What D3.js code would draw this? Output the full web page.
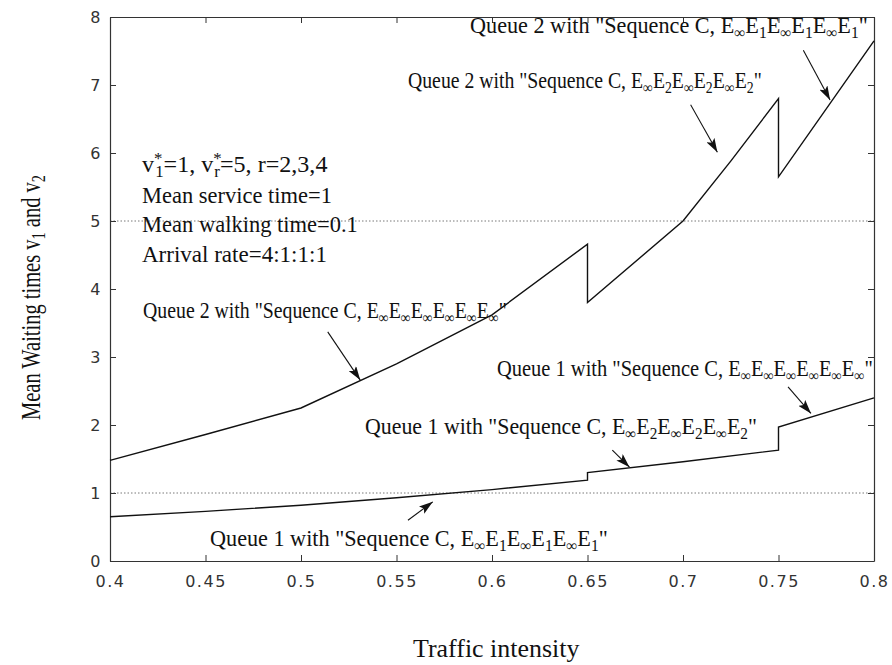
<!DOCTYPE html>
<html>
<head>
<meta charset="utf-8">
<script src="https://cdn.jsdelivr.net/npm/d3@7"></script>
<style>
  body { margin: 0; background: #fff; }
  svg { display: block; }
  .tick text { font-family: "DejaVu Sans", sans-serif; font-size: 16px; letter-spacing: 1.5px; fill: #333; }
  .note { font-family: "Liberation Serif", "Times New Roman", serif; font-size: 23px; fill: #111; }
</style>
</head>
<body>
<div id="chart"></div>
<script>
// traffic intensity (x) and mean waiting time (y), jumps are repeated x values
var q2x = [0.4, 0.45, 0.5, 0.55, 0.6, 0.65, 0.65, 0.7, 0.725, 0.75, 0.75, 0.8];
var q2y = [1.48, 1.86, 2.25, 2.9, 3.62, 4.66, 3.8, 5.0, 5.88, 6.8, 5.65, 7.65];
var q1x = [0.4, 0.45, 0.5, 0.55, 0.6, 0.65, 0.65, 0.7, 0.75, 0.75, 0.8];
var q1y = [0.65, 0.73, 0.82, 0.93, 1.05, 1.19, 1.3, 1.46, 1.63, 1.97, 2.4];
var refLines = [1, 5];
var xTicks = [0.4, 0.45, 0.5, 0.55, 0.6, 0.65, 0.7, 0.75, 0.8];
var yTicks = [0, 1, 2, 3, 4, 5, 6, 7, 8];

// arrows in data units: [x0, y0, x1, y1]
var arrows = [
  [0.763, 7.51, 0.777, 6.78],
  [0.704, 6.71, 0.718, 6.01],
  [0.514, 3.37, 0.531, 2.66],
  [0.755, 2.56, 0.767, 2.17],
  [0.663, 1.63, 0.672, 1.38],
  [0.556, 0.60, 0.569, 0.87]
];

var W = 892, H = 665;
var m = {left: 110, right: 18, top: 17, bottom: 104};

var svg = d3.select('#chart').append('svg')
  .attr('width', W)
  .attr('height', H);

var x = d3.scaleLinear().domain([0.4, 0.8]).range([m.left, W - m.right]);
var y = d3.scaleLinear().domain([0, 8]).range([H - m.bottom, m.top]);

// dotted reference lines
svg.selectAll('.ref').data(refLines).enter().append('line')
  .attr('x1', x(0.4)).attr('x2', x(0.8))
  .attr('y1', function(d) { return y(d); })
  .attr('y2', function(d) { return y(d); })
  .attr('stroke', '#555').attr('stroke-width', 0.8)
  .attr('stroke-dasharray', '1.5,2');

// axes (MATLAB style box with inward ticks)
var fx = function(d) { return String(+d.toFixed(2)); };
var axBottom = svg.append('g').attr('transform', 'translate(0,' + y(0) + ')')
  .call(d3.axisBottom(x).tickValues(xTicks).tickFormat(fx).tickSizeInner(-6).tickSizeOuter(0).tickPadding(15));
var axTop = svg.append('g').attr('transform', 'translate(0,' + y(8) + ')')
  .call(d3.axisTop(x).tickValues(xTicks).tickFormat('').tickSizeInner(-6).tickSizeOuter(0));
var axLeft = svg.append('g').attr('transform', 'translate(' + x(0.4) + ',0)')
  .call(d3.axisLeft(y).tickValues(yTicks).tickFormat(d3.format('d')).tickSizeInner(-6).tickSizeOuter(0).tickPadding(8));
var axRight = svg.append('g').attr('transform', 'translate(' + x(0.8) + ',0)')
  .call(d3.axisRight(y).tickValues(yTicks).tickFormat('').tickSizeInner(-6).tickSizeOuter(0));
[axBottom, axTop, axLeft, axRight].forEach(function(g) {
  g.select('.domain').attr('stroke', '#333').attr('stroke-width', 1.2);
  g.selectAll('.tick line').attr('stroke', '#333');
});

// curves
var line = d3.line()
  .x(function(d) { return x(d[0]); })
  .y(function(d) { return y(d[1]); });
[[q2x, q2y], [q1x, q1y]].forEach(function(s) {
  svg.append('path')
    .datum(d3.zip(s[0], s[1]))
    .attr('d', line)
    .attr('fill', 'none')
    .attr('stroke', '#111')
    .attr('stroke-width', 1.4);
});

// arrows
svg.append('defs').append('marker')
  .attr('id', 'head')
  .attr('viewBox', '0 0 14 9')
  .attr('refX', 14).attr('refY', 4.5)
  .attr('markerWidth', 14).attr('markerHeight', 9)
  .attr('markerUnits', 'userSpaceOnUse')
  .attr('orient', 'auto')
  .append('path').attr('d', 'M0,0 L14,4.5 L0,9 L3,4.5 Z').attr('fill', '#111');
svg.selectAll('.arrow').data(arrows).enter().append('line')
  .attr('x1', function(d) { return x(d[0]); })
  .attr('y1', function(d) { return y(d[1]); })
  .attr('x2', function(d) { return x(d[2]); })
  .attr('y2', function(d) { return y(d[3]); })
  .attr('stroke', '#111').attr('stroke-width', 1.1)
  .attr('marker-end', 'url(#head)');

// text with sub/superscripts: parts are [text, kind, dx]
// the whole label is squeezed horizontally to the width it has in the figure
function rich(px, py, parts, size, len, rot) {
  var g = svg.append('g');
  var t = g.append('text').attr('class', 'note');
  if (size) t.style('font-size', size + 'px');
  var shift = 0;
  parts.forEach(function(p) {
    var ts = t.append('tspan').text(p[0]);
    var target = 0;
    if (p[1] === 'sub') target = 5;
    if (p[1] === 'sup') target = -8;
    if (p[1]) ts.style('font-size', '70%');
    ts.attr('dy', target - shift);
    if (p[2]) ts.attr('dx', p[2]);
    shift = target;
  });
  var w = t.node().getBBox().width;
  var sx = len ? len / w : 1;
  g.attr('transform', 'translate(' + px + ',' + py + ')' + (rot ? ' rotate(' + rot + ')' : '') + ' scale(' + sx + ',1)');
  return g;
}
function seq(label, subs) {
  var parts = [[label + ' with "Sequence C, ', '']];
  subs.forEach(function(s) { parts.push(['E', '']); parts.push([s, 'sub']); });
  parts.push(['"', '']);
  return parts;
}
var inf = '\u221e';

rich(470, 33, seq('Queue 2', [inf, '1', inf, '1', inf, '1']), null, 398);
rich(408, 88, seq('Queue 2', [inf, '2', inf, '2', inf, '2']), null, 354);
rich(143, 318, seq('Queue 2', [inf, inf, inf, inf, inf, inf]), null, 364);
rich(497, 376, seq('Queue 1', [inf, inf, inf, inf, inf, inf]), null, 376);
rich(365, 434, seq('Queue 1', [inf, '2', inf, '2', inf, '2']), null, 392);
rich(210, 546, seq('Queue 1', [inf, '1', inf, '1', inf, '1']), null, 398);

rich(142, 172, [['v', ''], ['*', 'sup'], ['1', 'sub', -7], ['=1, v', ''], ['*', 'sup'], ['r', 'sub', -7], ['=5, r=2,3,4', '']], null, 186);
rich(142, 203, [['Mean service time=1', '']], null, 190);
rich(142, 232, [['Mean walking time=0.1', '']], null, 216);
rich(142, 262, [['Arrival rate=4:1:1:1', '']], null, 185);

// axis titles
rich(413, 657, [['Traffic intensity', '']], 25, 167);
rich(40, 420, [['Mean Waiting times v', ''], ['1', 'sub'], [' and v', ''], ['2', 'sub']], 27, 245, -90);
</script>
</body>
</html>
